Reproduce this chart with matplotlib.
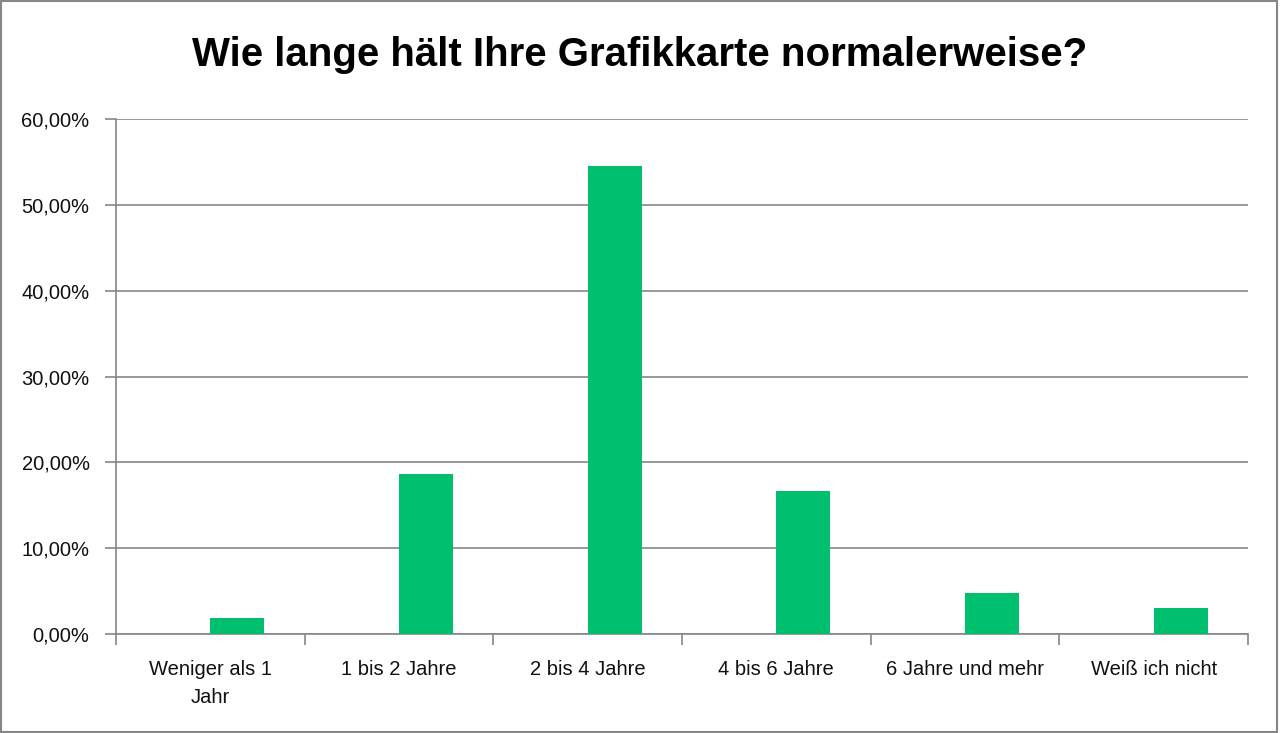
import matplotlib.pyplot as plt
from matplotlib.patches import Rectangle
from matplotlib.ticker import FuncFormatter, MultipleLocator
import numpy as np

# Umfragedaten
categories = ["Weniger als 1\nJahr", "1 bis 2 Jahre", "2 bis 4 Jahre",
              "4 bis 6 Jahre", "6 Jahre und mehr", "Weiß ich nicht"]
shares = [1.9, 18.7, 54.5, 16.7, 4.8, 3.0]

title = "Wie lange hält Ihre Grafikkarte normalerweise?"
bar_color = "#00BF6F"
line_color = "#868686"
font = ["Liberation Sans", "DejaVu Sans"]

fig = plt.figure(figsize=(12.8, 7.33), dpi=100)
ax = fig.add_axes([0.0906, 0.135, 0.8844, 0.7027])

# Excel-artiger Versatz: Balken sitzt rechts von der Kategoriemitte
x = np.arange(len(categories))
bar_w = 0.286
ax.bar(x + bar_w / 2, shares, width=bar_w, color=bar_color, zorder=3)

ax.set_xlim(-0.5, len(categories) - 0.5)
ax.set_ylim(0, 60)
ax.yaxis.set_major_locator(MultipleLocator(10))
ax.yaxis.set_major_formatter(FuncFormatter(lambda v, p: f"{v:.2f}%".replace(".", ",")))
ax.grid(axis="y", color=line_color, linewidth=1.2, zorder=0)

# Kategoriegrenzen als Striche, Beschriftung in der Mitte
ax.set_xticks(np.arange(len(categories) + 1) - 0.5)
ax.set_xticklabels([])
ax.set_xticks(x, minor=True)
ax.set_xticklabels(categories, minor=True, fontsize=14.5, family=font,
                   color="#111111", linespacing=1.55)
ax.tick_params(axis="x", which="major", length=8, width=1.2, color=line_color, direction="out")
ax.tick_params(axis="x", which="minor", length=0, pad=19)
ax.tick_params(axis="y", length=8, width=1.2, color=line_color, pad=11, labelsize=14.5, labelcolor="#111111")
for lbl in ax.get_yticklabels():
    lbl.set_family(font)

for side in ["top", "right"]:
    ax.spines[side].set_visible(False)
for side in ["left", "bottom"]:
    ax.spines[side].set_color(line_color)
    ax.spines[side].set_linewidth(1.2)

fig.text(0.5, 0.925, title, ha="center", va="center", fontsize=29,
         fontweight="bold", family=font)

# grauer Rahmen um die ganze Grafik
fig.patches.append(Rectangle((0.001, 0.002), 0.997, 0.996, transform=fig.transFigure,
                             fill=False, edgecolor=line_color, linewidth=1.5))

fig.savefig("out.png", dpi=100)
